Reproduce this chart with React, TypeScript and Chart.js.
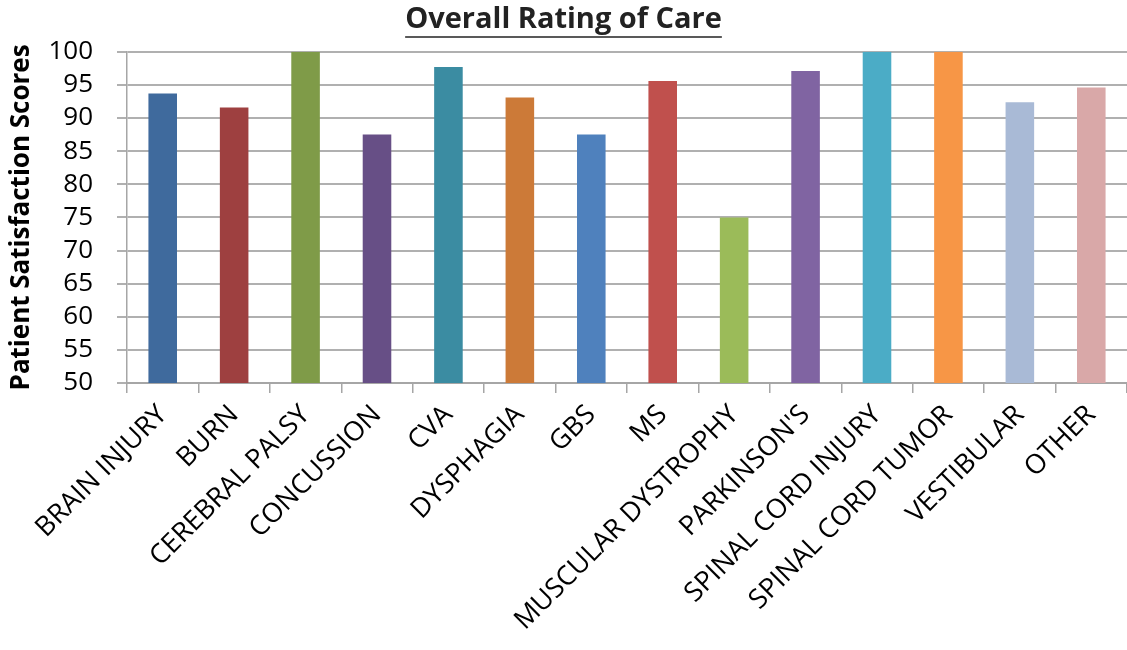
import React, { useEffect, useRef } from "react";
import { Chart, registerables } from "chart.js";

Chart.register(...registerables);

const categories = [
  "BRAIN INJURY",
  "BURN",
  "CEREBRAL PALSY",
  "CONCUSSION",
  "CVA",
  "DYSPHAGIA",
  "GBS",
  "MS",
  "MUSCULAR DYSTROPHY",
  "PARKINSON'S",
  "SPINAL CORD INJURY",
  "SPINAL CORD TUMOR",
  "VESTIBULAR",
  "OTHER",
];

const scores = [93.7, 91.6, 100, 87.5, 97.7, 93.1, 87.5, 95.6, 75, 97.1, 100, 100, 92.4, 94.6];

const barColors = [
  "#3F6A9D",
  "#9E4040",
  "#7F9B48",
  "#674F86",
  "#3B8CA2",
  "#CC7A38",
  "#4F81BD",
  "#C0504D",
  "#9BBB59",
  "#8064A2",
  "#4BACC6",
  "#F79646",
  "#A9BAD6",
  "#D9A8A8",
];

const titleText = "Overall Rating of Care";
const yTitle = "Patient Satisfaction Scores";
const yMin = 50;
const yMax = 100;
const yStep = 5;

const TITLE_FONT = "'Open Sans'";
const TITLE_SIZE = 29;

const underlinePlugin = {
  id: "titleUnderline",
  afterDraw(chart: any) {
    const tb = chart.titleBlock;
    if (!tb) return;
    const ctx = chart.ctx;
    ctx.save();
    ctx.font = `bold ${TITLE_SIZE}px ${TITLE_FONT}`;
    const w = ctx.measureText(titleText).width;
    const cx = tb.left + tb.width / 2;
    const y = 37;
    ctx.strokeStyle = "#222222";
    ctx.lineWidth = 1.5;
    ctx.beginPath();
    ctx.moveTo(cx - w / 2, y);
    ctx.lineTo(cx + w / 2, y);
    ctx.stroke();
    ctx.restore();
  },
};

export default function App() {
  const ref = useRef<HTMLCanvasElement | null>(null);

  useEffect(() => {
    document.body.style.margin = "0";
    const canvas = ref.current;
    if (!canvas) return;
    const chart = new Chart(canvas, {
      type: "bar",
      data: {
        labels: categories,
        datasets: [
          {
            data: scores,
            backgroundColor: barColors,
            borderWidth: 0,
            barPercentage: 0.4,
            categoryPercentage: 1,
          },
        ],
      },
      options: {
        responsive: false,
        animation: false,
        maintainAspectRatio: false,
        layout: { padding: { top: 0, right: 0, left: 0, bottom: 0 } },
        plugins: {
          legend: { display: false },
          tooltip: { enabled: false },
          title: {
            display: true,
            text: titleText,
            color: "#222222",
            font: { family: TITLE_FONT, size: TITLE_SIZE, weight: "bold" },
            padding: { top: 2, bottom: 15 },
            lineHeight: 1.2,
          },
        },
        scales: {
          x: {
            offset: true,
            grid: {
              offset: true,
              drawOnChartArea: false,
              drawTicks: true,
              tickLength: 10,
              color: "#A6A6A6",
              lineWidth: 1.5,
            },
            border: { color: "#A6A6A6", width: 2 },
            ticks: {
              color: "#000000",
              font: { family: "'Open Sans'", size: 27 },
              minRotation: 45,
              maxRotation: 45,
              autoSkip: false,
              padding: 6,
            },
            afterFit(scale: any) {
              scale.height = 650 - 383;
            },
          },
          y: {
            min: yMin,
            max: yMax,
            grid: {
              color: "#B0B0B0",
              lineWidth: 2,
              tickLength: 10,
            },
            border: { color: "#A6A6A6", width: 1.5 },
            ticks: {
              stepSize: yStep,
              autoSkip: false,
              color: "#000000",
              font: { family: "'Open Sans'", size: 26, lineHeight: 1 },
              padding: 24,
            },
            title: {
              display: true,
              text: yTitle,
              color: "#000000",
              font: { family: "'Open Sans'", size: 26, weight: "bold" },
              padding: { top: 6, bottom: 0 },
            },
            afterFit(scale: any) {
              scale.width = 127;
            },
          },
        },
      },
      plugins: [underlinePlugin],
    });
    return () => chart.destroy();
  }, []);

  return (
    <div style={{ width: 1127, height: 650 }}>
      <canvas ref={ref} width={1127} height={650} style={{ width: 1127, height: 650, display: "block" }} />
    </div>
  );
}
